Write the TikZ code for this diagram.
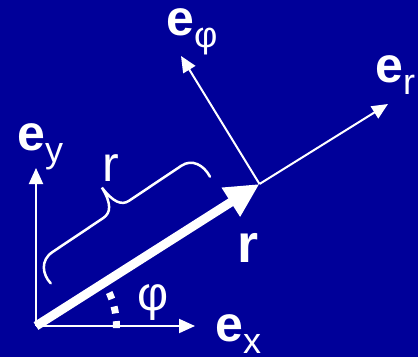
\documentclass[tikz,border=0pt]{standalone}
\usepackage{fontspec}
\setmainfont{Liberation Sans}
\usetikzlibrary{arrows.meta}
\definecolor{slideblue}{RGB}{0,0,153}
\newcommand{\unitvec}[1]{\textbf{e}\raisebox{-12pt}{\fontsize{36}{36}\selectfont #1}}

\begin{document}
\begin{tikzpicture}[x=1pt, y=-1pt,
  every node/.style={text=white, inner sep=0pt, font=\fontsize{50}{50}\selectfont},
  axis/.style={white, line width=2pt, -{Triangle[length=16pt,width=14pt]}}]
  % background
  \fill[slideblue] (0,0) rectangle (418,357);

  % points
  \coordinate (O) at (36,326);
  \coordinate (P) at (259.5,184);
  \coordinate (ex) at (195,326);
  \coordinate (ey) at (36,168);
  \coordinate (er) at (388,104);
  \coordinate (ephi) at (181,56);
  \coordinate (b1) at (50.7,283.3);

  % unit vectors
  \foreach \a/\b in {O/ex, O/ey, P/er, P/ephi}
    \draw[axis] (\a) -- (\b);

  % angle
  \draw[white, line width=7pt, dash pattern=on 7pt off 7.8pt]
    (O) ++(1.5:80.5) arc (1.5:-32:80.5);

  % position vector
  \draw[white, line width=9pt, -{Triangle[length=34pt,width=32pt]}] (O) -- (P);

  % brace along r
  \begin{scope}[shift={(b1)}, rotate=33.8, x=1pt, y=1pt]
    \draw[white, line width=2.5pt, line cap=round]
      (0,0) .. controls (-2,12) and (4,25) .. (19,25) -- (80,25)
      .. controls (89,25) and (95,32) .. (95.8,51)
      .. controls (97,33) and (102,25) .. (111,25) -- (174,25)
      .. controls (187,25) and (193,13) .. (191.7,0);
  \end{scope}

  % labels
  \node[anchor=base west] (lphi) at (166,35) {\unitvec{φ}};
  \node[anchor=base west] (lr) at (375,82) {\unitvec{r}};
  \node[anchor=base west] (ly) at (17,150) {\unitvec{y}};
  \node[anchor=base west] (lx) at (215,341) {\unitvec{x}};
  \node[font=\fontsize{54}{54}\selectfont\bfseries] (rvec) at (248.5,247.5) {r};
  \node (rlen) at (111,168.5) {r};
  \node[font=\fontsize{48}{48}\selectfont] (angle) at (153,302.5) {φ};
\end{tikzpicture}
\end{document}
